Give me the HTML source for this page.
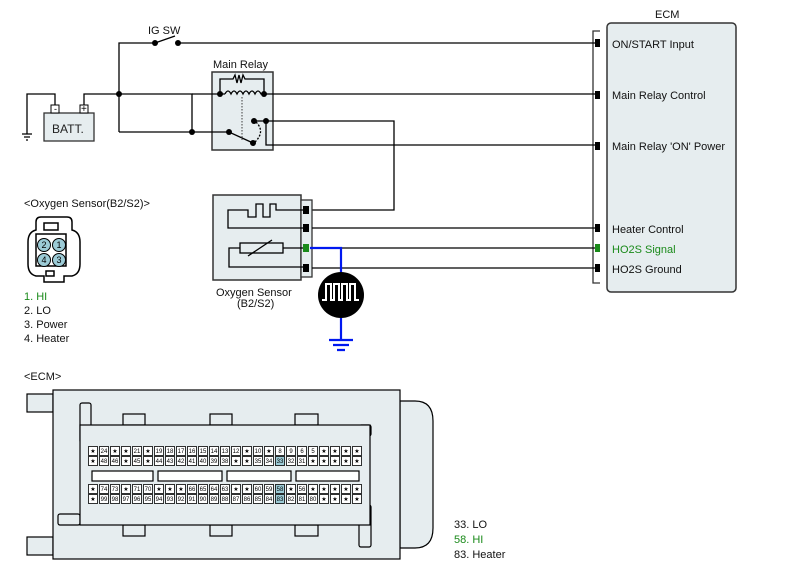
<!DOCTYPE html>
<html><head><meta charset="utf-8"><style>
body{margin:0;background:#fff}
svg{display:block;font-family:"Liberation Sans",sans-serif}
</style></head><body>
<svg id="s" width="786" height="572" viewBox="0 0 786 572" xmlns="http://www.w3.org/2000/svg">
<g fill="none" stroke="#000" stroke-width="1.3">
<!-- ECM right box -->
<path d="M600 31 H593 V283 H600" stroke="#333"/>
<rect x="607" y="23" width="129" height="269" rx="4" fill="#e6edef" stroke="#333" stroke-width="1.5"/>
<!-- relay box first -->
<rect x="212" y="72" width="61" height="78" fill="#e6edef" stroke="#333" stroke-width="1.5"/>
<!-- IG SW line -->
<path d="M119 132 V43 H155"/>
<path d="M155 43 L175 36"/>
<path d="M178 43 H596"/>
<!-- battery -->
<path d="M84 105 V94 H192 V132"/>
<path d="M55 105 V94 H27 V134"/>
<path d="M22 134 H32 M24 137 H30 M26 140 H28"/>
<path d="M119 132 H229 L253 143"/>
<!-- relay -->
<path d="M192 94 H225"/>
<path d="M225 94 q3 -6 6 0 q3 -6 6 0 q3 -6 6 0 q3 -6 6 0 q3 -6 6 0 q3 -6 6 0 H596"/>
<path d="M220 94 V79 H233 l2 -4 l2 8 l2 -8 l2 8 l2 -8 l2 4 H264 V94"/>
<path d="M242 97 V140" stroke-dasharray="1.5 1.5" stroke="#666"/>
<path d="M256 122 q10 10 -2 21" stroke-dasharray="2 1.5"/>
<path d="M254 121 H394 V210 H312"/>
<path d="M266 121 V145 H596"/>
<!-- sensor box -->
<rect x="213" y="195" width="88" height="85" fill="#e6edef" stroke="#333" stroke-width="1.5"/>
<rect x="301" y="200" width="11" height="77" fill="#e6edef" stroke="#333"/>
<path d="M306 210 H276 V204 H270 V217 H263 V204 H256 V217 H248 V210 H228 V228 H306"/>
<rect x="240" y="243" width="43" height="10" fill="#e6edef"/>
<path d="M248 256 L272 240"/>
<path d="M283 248 H306 M240 248 H229 V267 H306"/>
<path d="M312 228 H596 M312 248 H596 M312 268 H596"/>
<path d="M310 248 H341 V272 M341 318 V340 M329 340 H353 M333 345 H349 M337 350 H345" stroke="#0018f0" stroke-width="2.2"/>
</g>
<circle cx="341" cy="295" r="23" fill="#000"/>
<path d="M322 300 h4 v-16 h5 v16 h3 v-16 h5 v16 h3 v-16 h5 v16 h3 v-16 h5 v16 h4" fill="none" stroke="#fff" stroke-width="2"/>
<g fill="#000">
<circle cx="155" cy="43" r="3"/><circle cx="178" cy="43" r="3"/>
<circle cx="119" cy="94" r="3"/><circle cx="192" cy="132" r="3"/>
<circle cx="220" cy="94" r="3"/><circle cx="264" cy="94" r="3"/>
<circle cx="254" cy="121" r="3"/><circle cx="266" cy="121" r="3"/>
<circle cx="229" cy="132" r="3"/><circle cx="253" cy="143" r="3"/>
<rect x="595" y="39" width="5" height="8"/><rect x="595" y="91" width="5" height="8"/>
<rect x="595" y="142" width="5" height="8"/><rect x="595" y="224" width="5" height="8"/>
<rect x="595" y="264" width="5" height="8"/>
<rect x="303" y="206" width="6" height="8"/><rect x="303" y="224" width="6" height="8"/>
<rect x="303" y="264" width="6" height="8"/>
</g>
<rect x="595" y="244" width="5" height="8" fill="#1a8a1a"/>
<rect x="303" y="244" width="6" height="8" fill="#1a8a1a"/>
<!-- battery box -->
<rect x="44" y="113" width="50" height="28" fill="#e6edef" stroke="#333" stroke-width="1.3"/>
<rect x="51" y="105" width="8" height="8" fill="#fff" stroke="#000"/>
<rect x="80" y="105" width="8" height="8" fill="#fff" stroke="#000"/>
<text x="54" y="112" font-size="9">-</text><text x="81" y="112" font-size="10">+</text>
<text x="52" y="133" font-size="12" fill="#222">BATT.</text>
<g font-size="11" fill="#111">
<text x="148" y="34">IG SW</text>
<text x="213" y="68">Main Relay</text>
<text x="655" y="18">ECM</text>
<text x="612" y="48">ON/START Input</text>
<text x="612" y="99">Main Relay Control</text>
<text x="612" y="150">Main Relay 'ON' Power</text>
<text x="612" y="233">Heater Control</text>
<text x="612" y="253" fill="#1a8a1a">HO2S  Signal</text>
<text x="612" y="273">HO2S  Ground</text>
<text x="216" y="296">Oxygen Sensor</text>
<text x="237" y="307">(B2/S2)</text>
<text x="24" y="207">&lt;Oxygen Sensor(B2/S2)&gt;</text>
<text x="24" y="300" fill="#1a8a1a">1. HI</text>
<text x="24" y="314">2. LO</text>
<text x="24" y="328">3. Power</text>
<text x="24" y="342">4. Heater</text>
<text x="24" y="380">&lt;ECM&gt;</text>
<text x="454" y="528">33. LO</text>
<text x="454" y="543" fill="#1a8a1a">58. HI</text>
<text x="454" y="558">83. Heater</text>
</g>
<!-- O2 connector icon -->
<g stroke="#000" stroke-width="1.5" fill="#fff">
<path d="M28 242 q0 -10 8 -12 v-8 q0 -5 5 -5 h26 q5 0 5 5 v8 q8 2 8 12 v22 q0 10 -8 12 h-8 v6 h-20 v-6 h-8 q-8 -2 -8 -12 z"/>
<rect x="44" y="223" width="14" height="7"/>
<rect x="36" y="234" width="30" height="32"/>
<rect x="46" y="271" width="8" height="5"/>
</g>
<g fill="#9ccbd6" stroke="#000" stroke-width="1">
<circle cx="44" cy="245" r="6.5"/><circle cx="59" cy="245" r="6.5"/>
<circle cx="44" cy="260" r="6.5"/><circle cx="59" cy="260" r="6.5"/>
</g>
<g font-size="9" text-anchor="middle" fill="#000">
<text x="44" y="248">2</text><text x="59" y="248">1</text>
<text x="44" y="263">4</text><text x="59" y="263">3</text>
</g>
<!-- ECM connector -->
<g stroke="#000" stroke-width="1.2" fill="#e6edef">
<rect x="27" y="394" width="26" height="18"/>
<rect x="27" y="537" width="26" height="18"/>
<path d="M400 401 H415 q18 0 18 20 V528 q0 20 -18 20 H400 Z"/>
<rect x="53" y="390" width="347" height="169"/>
<rect x="80" y="403" width="11" height="40" rx="2"/>
<rect x="359" y="425" width="12" height="11" rx="2"/>
<rect x="58" y="514" width="22" height="11" rx="2"/>
<rect x="359" y="505" width="12" height="42" rx="2"/>
<rect x="123" y="414" width="22" height="11"/><rect x="210" y="414" width="22" height="11"/>
<rect x="295" y="414" width="23" height="11"/>
<rect x="123" y="525" width="22" height="11"/><rect x="210" y="525" width="22" height="11"/>
<rect x="295" y="525" width="23" height="11"/>
<rect x="80" y="425" width="290" height="100"/>
<rect x="92" y="471" width="61" height="10" fill="#fff"/>
<rect x="158" y="471" width="64" height="10" fill="#fff"/>
<rect x="227" y="471" width="64" height="10" fill="#fff"/>
<rect x="296" y="471" width="63" height="10" fill="#fff"/>
</g>
<g id="pins" font-size="6" text-anchor="middle"></g>
</svg>
<script>
var rows=[[451,"★ 24 ★ ★ 21 ★ 19 18 17 16 15 14 13 12 ★ 10 ★ 8 9 6 5 ★ ★ ★ ★"],
[461,"★ 48 46 ★ 45 ★ 44 43 42 41 40 39 38 ★ ★ 35 34 33 32 31 ★ ★ ★ ★ ★"],
[489,"★ 74 73 ★ 71 70 ★ ★ ★ 66 65 64 63 ★ ★ 60 59 58 ★ 56 ★ ★ ★ ★ ★"],
[499,"★ 99 98 97 96 95 94 93 92 91 90 89 88 87 86 85 84 83 82 81 80 ★ ★ ★ ★"]];
var g=document.getElementById('pins'),h='';
rows.forEach(function(r){r[1].split(' ').forEach(function(t,i){var x=93+i*11;
var hl=(t=='33'||t=='58'||t=='83');
h+='<rect x="'+(x-4.5)+'" y="'+(r[0]-4.5)+'" width="9" height="9" fill="'+(hl?'#9ccbd6':'#fff')+'" stroke="#000" stroke-width="0.8"/>';
h+='<text x="'+x+'" y="'+(r[0]+2.2)+'">'+t+'</text>';});});
g.innerHTML=h;
</script>
</body></html>
